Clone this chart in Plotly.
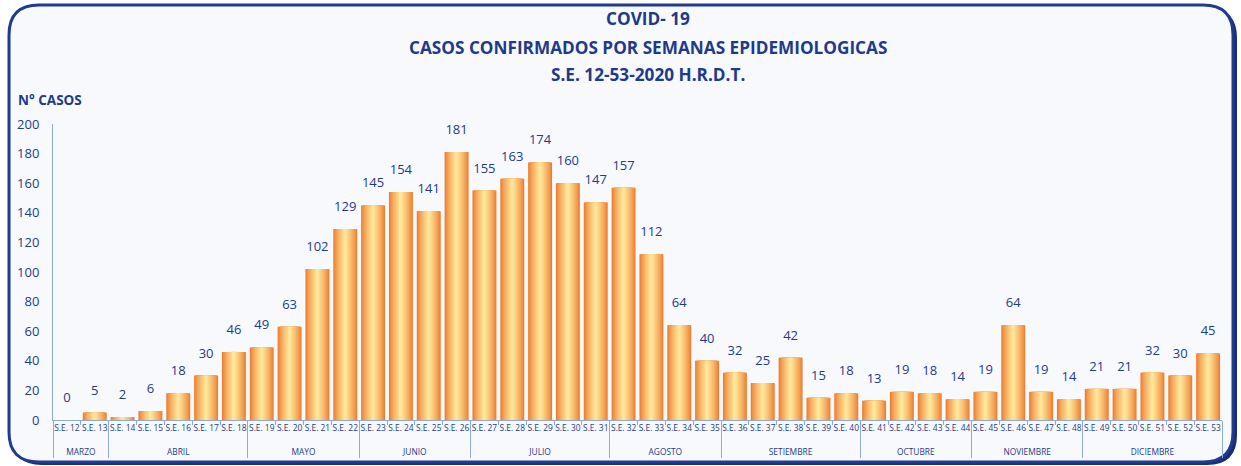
import plotly.graph_objects as go

# Data
weeks = ["S.E. %d" % w for w in range(12, 54)]
months = (["MARZO"] * 2 + ["ABRIL"] * 5 + ["MAYO"] * 4 + ["JUNIO"] * 4 +
          ["JULIO"] * 5 + ["AGOSTO"] * 4 + ["SETIEMBRE"] * 5 + ["OCTUBRE"] * 4 +
          ["NOVIEMBRE"] * 4 + ["DICIEMBRE"] * 5)
casos = [0, 5, 2, 6, 18, 30, 46, 49, 63, 102, 129, 145, 154, 141, 181, 155, 163,
         174, 160, 147, 157, 112, 64, 40, 32, 25, 42, 15, 18, 13, 19, 18, 14, 19,
         64, 19, 14, 21, 21, 32, 30, 45]

NAVY = "#1f3a8a"
AXIS = "#8eaadb"
W, H = 1241, 466
ML, MR, MT, MB = 53, 19, 124, 46
PW, PH = W - ML - MR, H - MT - MB


def px(x):
    return (x - ML) / PW


def py(y):
    return (H - MB - y) / PH


def mix(c1, c2, t):
    return "#%02x%02x%02x" % tuple(round(a + (b - a) * t) for a, b in zip(c1, c2))


# month labels sit a little lower, as in the original
month_lbl = ["<br>" + m for m in months]

fig = go.Figure()

# bars with horizontal gradient (dark orange edges -> pale yellow centre)
edge = (237, 125, 49)
centre = (255, 230, 153)
n = 12
full = 0.86
for i in range(n):
    t = i / (n - 1)
    fig.add_trace(go.Bar(
        x=[month_lbl, weeks], y=casos,
        width=full * (1 - i / n),
        marker=dict(color=mix(edge, centre, t ** 0.8), line=dict(width=0)),
        cliponaxis=False, hoverinfo="skip" if i else "y",
        showlegend=False))

# value labels (invisible markers give the gap above the bars)
fig.add_trace(go.Scatter(
    x=[month_lbl, weeks], y=casos, mode="markers+text",
    marker=dict(size=22, color="rgba(0,0,0,0)"),
    text=casos, textposition="top center",
    textfont=dict(family="Open Sans", size=13, color=NAVY),
    cliponaxis=False, hoverinfo="skip", showlegend=False))

# frame
def rrect(x0, y0, x1, y1, r):
    return ("M %f,%f L %f,%f Q %f,%f %f,%f L %f,%f Q %f,%f %f,%f "
            "L %f,%f Q %f,%f %f,%f L %f,%f Q %f,%f %f,%f Z" % (
                px(x0 + r), py(y0), px(x1 - r), py(y0), px(x1), py(y0), px(x1), py(y0 + r),
                px(x1), py(y1 - r), px(x1), py(y1), px(x1 - r), py(y1),
                px(x0 + r), py(y1), px(x0), py(y1), px(x0), py(y1 - r),
                px(x0), py(y0 + r), px(x0), py(y0), px(x0 + r), py(y0)))

shapes = [
    dict(type="path", xref="paper", yref="paper", path=rrect(12, 8, 1237, 465, 30),
         fillcolor="#1a2f6b", line=dict(width=0), layer="below"),
    dict(type="path", xref="paper", yref="paper", path=rrect(9, 5, 1233, 462, 30),
         fillcolor="#f7f9fc", line=dict(color="#1f3a93", width=3), layer="below"),
]

annotations = [
    dict(text="<b>COVID- 19</b>", x=px(648), y=py(19)),
    dict(text="<b>CASOS CONFIRMADOS POR SEMANAS EPIDEMIOLOGICAS</b>", x=px(648), y=py(47)),
    dict(text="<b>S.E. 12-53-2020 H.R.D.T.</b>", x=px(648), y=py(74)),
]
for a in annotations:
    a.update(xref="paper", yref="paper", showarrow=False, xanchor="center", yanchor="middle",
             font=dict(family="Open Sans", size=17.2, color=NAVY))
annotations.append(dict(text="<b>N° CASOS</b>", x=px(18), y=py(100), xref="paper", yref="paper",
                        showarrow=False, xanchor="left", yanchor="middle", xshift=-2,
                        font=dict(family="Open Sans", size=13.5, color=NAVY)))

fig.update_layout(
    width=W, height=H,
    margin=dict(l=ML, r=MR, t=MT, b=MB),
    barmode="overlay",
    paper_bgcolor="white", plot_bgcolor="rgba(0,0,0,0)",
    shapes=shapes, annotations=annotations,
    font=dict(family="Open Sans", color=NAVY),
    xaxis=dict(type="multicategory", range=[-0.5, len(weeks) - 0.5],
               showgrid=False, zeroline=False, automargin=False,
               showline=True, linecolor=AXIS, linewidth=1,
               ticks="outside", ticklen=4, tickcolor=AXIS, tickangle=0,
               showdividers=True, dividercolor=AXIS, dividerwidth=1,
               tickfont=dict(family="Open Sans", size=8.4, color=NAVY)),
    yaxis=dict(range=[0, 200], dtick=20, showgrid=False, zeroline=False, automargin=False,
               showline=True, linecolor=AXIS, linewidth=1, ticks="",
               ticklabelstandoff=10,
               tickfont=dict(family="Open Sans", size=13, color=NAVY)),
)

fig.write_html("out.html", config={"displayModeBar": False},
               post_script="document.body.style.margin='0';")
